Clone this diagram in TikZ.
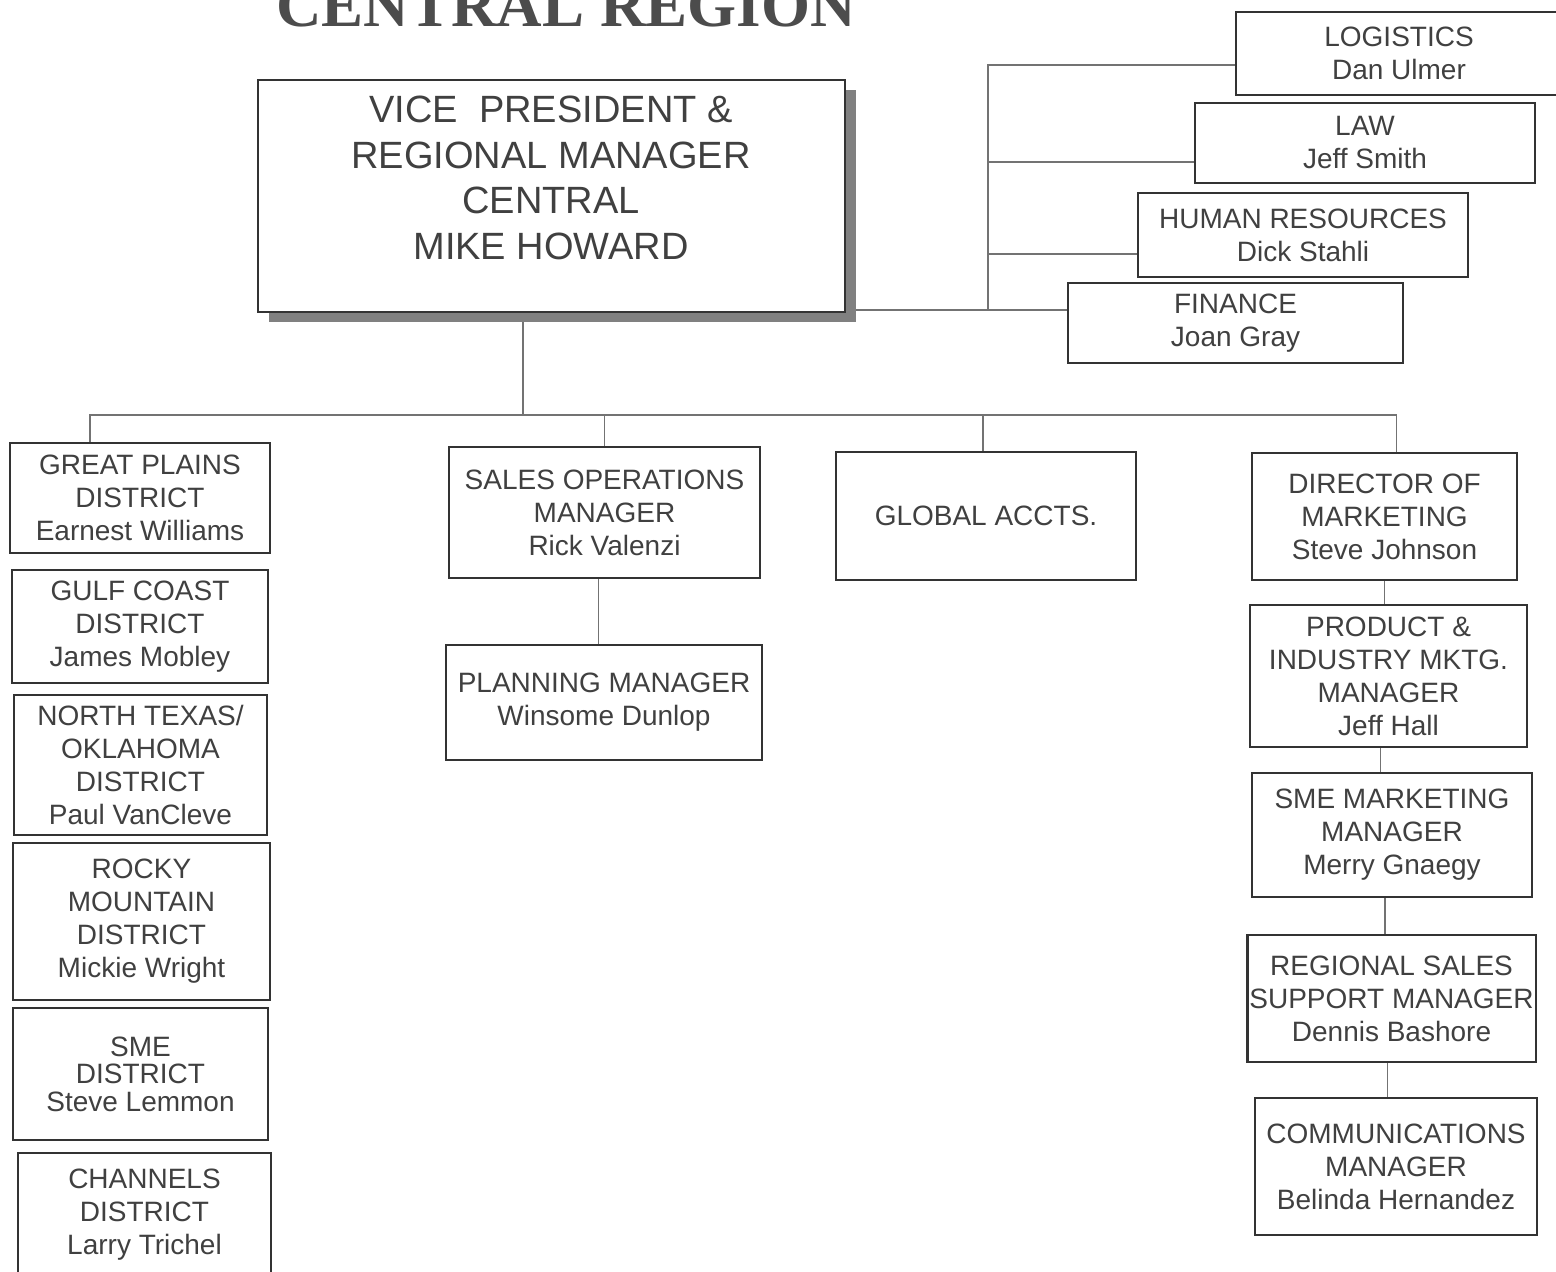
\documentclass[tikz,border=0pt]{standalone}
\usepackage{fontspec}
\setmainfont{Liberation Sans}
\newfontfamily\titlefont{Liberation Serif}
\usetikzlibrary{shadows}
\pgfdeclarelayer{background}
\pgfsetlayers{background,main}
\begin{document}
\begin{tikzpicture}[x=0.5pt,y=-0.5pt,
  box/.style={draw=black!80, line width=1.1pt, fill=white, inner sep=1pt, align=center,
    text=black!75, font=\fontsize{14}{16.5}\selectfont},
  conn/.style={draw=black!55, line width=0.9pt}]
\useasboundingbox (0,0) rectangle (1556,1272);
\node[anchor=base east, inner sep=0, font=\titlefont\bfseries\fontsize{31.5}{32}\selectfont, text=black!70] (title) at (856,27) {CENTRAL REGION};

% VP
\node[box, minimum width=293.5pt, minimum height=116pt,
  drop shadow={shadow xshift=5.5pt, shadow yshift=-5pt, fill=black!50, opacity=1}] (vp) at (551.5,196) {};
\node[align=center, text=black!75, font=\fontsize{19}{22.8}\selectfont, inner sep=0] (vpt) at (551,178)
  {VICE\ \ PRESIDENT \&\\REGIONAL MANAGER\\CENTRAL\\MIKE HOWARD};

% staff
\node[box, minimum width=163pt, minimum height=41.5pt] (log) at (1399,53.5) {LOGISTICS\\Dan Ulmer};
\node[box, minimum width=170pt, minimum height=40pt] (law) at (1365,143) {LAW\\Jeff Smith};
\node[box, minimum width=165pt, minimum height=42pt] (hr) at (1303,235) {HUMAN RESOURCES\\Dick Stahli};
\node[box, minimum width=167.5pt, minimum height=40pt] (fin) at (1235.5,323) {FINANCE\\Joan Gray};

% left column
\node[box, minimum width=130pt, minimum height=55pt] (gp) at (140,498) {GREAT PLAINS\\DISTRICT\\Earnest Williams};
\node[box, minimum width=128pt, minimum height=56.5pt] (gc) at (140,626.5) {GULF COAST\\DISTRICT\\James Mobley};
\node[box, minimum width=126.5pt, minimum height=70pt] (nt) at (140.5,765) {NORTH TEXAS/\\OKLAHOMA\\DISTRICT\\Paul VanCleve};
\node[box, minimum width=128.5pt, minimum height=78.5pt] (rm) at (141.5,921.5) {ROCKY\\MOUNTAIN\\DISTRICT\\Mickie Wright};
\node[box, minimum width=127.5pt, minimum height=66pt, font=\fontsize{14}{13.8}\selectfont] (sme) at (140.5,1074) {SME\\DISTRICT\\Steve Lemmon};
\node[box, minimum width=126.5pt, minimum height=61.5pt] (ch) at (144.5,1214.5) {CHANNELS\\DISTRICT\\Larry Trichel};

% middle
\node[box, minimum width=155.5pt, minimum height=65.5pt] (so) at (604.5,512.5) {SALES OPERATIONS\\MANAGER\\Rick Valenzi};
\node[box, minimum width=158pt, minimum height=57.5pt] (pm) at (604,702.5) {PLANNING MANAGER\\Winsome Dunlop};
\node[box, minimum width=150pt, minimum height=64pt] (ga) at (986,516) {GLOBAL ACCTS.};

% right column
\node[box, minimum width=132.5pt, minimum height=63.5pt] (dm) at (1384.5,516.5) {DIRECTOR OF\\MARKETING\\Steve Johnson};
\node[box, minimum width=138.5pt, minimum height=71pt] (pim) at (1388.5,676) {PRODUCT \&\\INDUSTRY MKTG.\\MANAGER\\Jeff Hall};
\node[box, minimum width=140pt, minimum height=62pt] (smem) at (1392,835) {SME MARKETING\\MANAGER\\Merry Gnaegy};
\node[box, minimum width=143.5pt, minimum height=63.5pt] (rss) at (1391.5,998.5) {REGIONAL SALES\\SUPPORT MANAGER\\Dennis Bashore};
\node[box, minimum width=141pt, minimum height=68.5pt] (com) at (1396,1166.5) {COMMUNICATIONS\\MANAGER\\Belinda Hernandez};

\coordinate (bus) at (523,415);
\coordinate (staff) at (988,310);
\coordinate (stafftop) at (988,65);
\coordinate (cLaw) at (988,162);
\coordinate (cHR) at (988,254);

\begin{pgfonlayer}{background}
\draw[conn] (vp.south -| bus) -- (bus);
\draw[conn] ([xshift=-25pt]gp.north) |- ([xshift=6pt]dm.north |- bus) -- ([xshift=6pt]dm.north);
\draw[conn] (so.north) -- (so.north |- bus);
\draw[conn] ([xshift=-1.5pt]ga.north) -- ([xshift=-1.5pt]ga.north |- bus);
\draw[conn] ([xshift=-3pt]so.south) -- ([xshift=-3pt]so.south |- pm.north);
\draw[conn] (dm.south) -- (dm.south |- pim.north);
\draw[conn] ([xshift=-4pt]pim.south) -- ([xshift=-4pt]pim.south |- smem.north);
\draw[conn] ([xshift=-3.5pt]smem.south) -- ([xshift=-3.5pt]smem.south |- rss.north);
\draw[conn] ([xshift=-2pt]rss.south) -- ([xshift=-2pt]rss.south |- com.north);
\draw[conn] (vp.east |- staff) -- (staff) -- (fin.west |- staff);
\draw[conn] (staff) -- (stafftop) -- (log.west |- stafftop);
\draw[conn] (cLaw) -- (law.west |- cLaw);
\draw[conn] (cHR) -- (hr.west |- cHR);
\end{pgfonlayer}
\end{tikzpicture}
\end{document}
